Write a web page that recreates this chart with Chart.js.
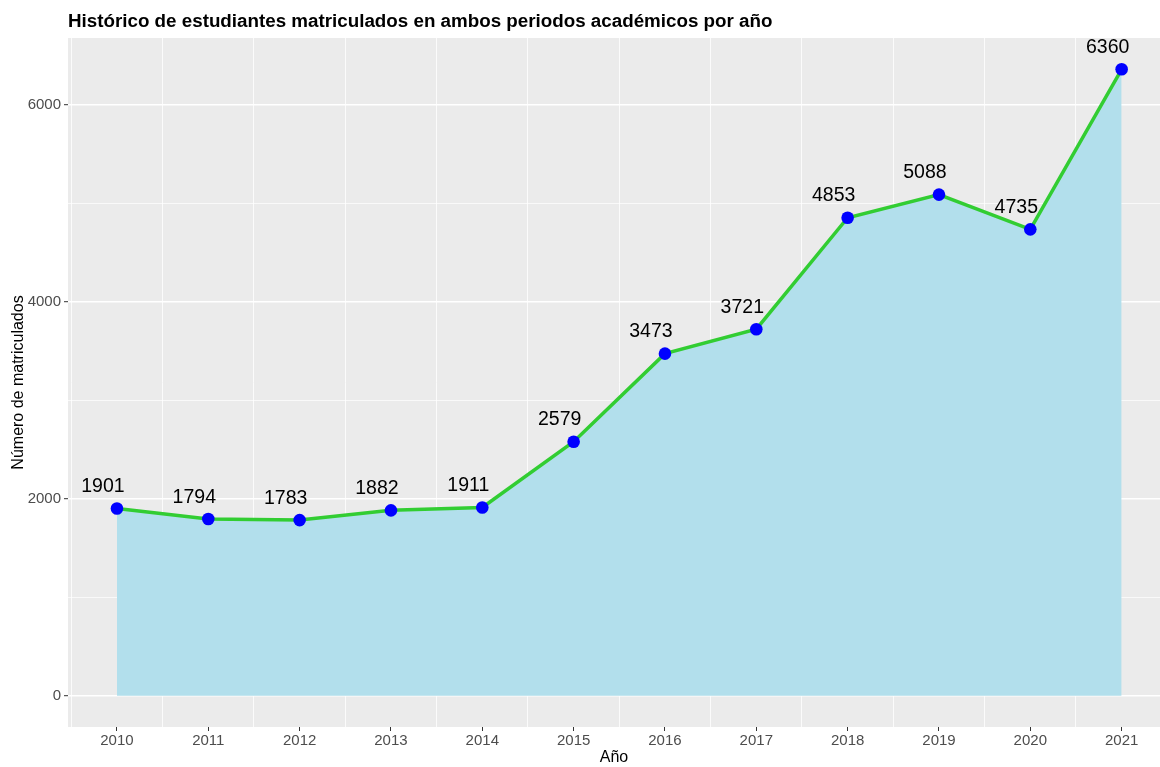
<!DOCTYPE html>
<html>
<head>
<meta charset="utf-8">
<script src="https://cdn.jsdelivr.net/npm/chart.js@4"></script>
<style>
  html, body { margin: 0; padding: 0; background: #ffffff; }
  #chart { display: block; }
</style>
</head>
<body>
<canvas id="chart" width="1160" height="767"></canvas>
<script>
// data
const years = [2010, 2011, 2012, 2013, 2014, 2015, 2016, 2017, 2018, 2019, 2020, 2021];
const students = [1901, 1794, 1783, 1882, 1911, 2579, 3473, 3721, 4853, 5088, 4735, 6360];

// axis breaks
const yMajor = [0, 2000, 4000, 6000];
const yMinor = [1000, 3000, 5000];
const xMinor = [2009.5, 2010.5, 2011.5, 2012.5, 2013.5, 2014.5, 2015.5, 2016.5, 2017.5, 2018.5, 2019.5, 2020.5];

const titleText = "Histórico de estudiantes matriculados en ambos periodos académicos por año";
const fontFamily = "'Liberation Sans', Arial, sans-serif";

const panelBg = {
    id: "panelBg",
    beforeDraw(chart) {
        const { ctx, chartArea: a } = chart;
        ctx.save();
        ctx.fillStyle = "#EBEBEB";
        ctx.fillRect(a.left, a.top, a.right - a.left, a.bottom - a.top);
        ctx.restore();
    }
};

const pointLabels = {
    id: "pointLabels",
    afterDatasetsDraw(chart) {
        const { ctx } = chart;
        const meta = chart.getDatasetMeta(0);
        ctx.save();
        ctx.font = "19.5px " + fontFamily;
        ctx.fillStyle = "#000000";
        ctx.textAlign = "center";
        ctx.textBaseline = "alphabetic";
        meta.data.forEach((pt, i) => {
            ctx.fillText(String(students[i]), pt.x - 14, pt.y - 16.5);
        });
        ctx.restore();
    }
};

const plotTitle = {
    id: "plotTitle",
    afterDraw(chart) {
        const { ctx } = chart;
        ctx.save();
        ctx.font = "bold 18.8px " + fontFamily;
        ctx.fillStyle = "#000000";
        ctx.textAlign = "left";
        ctx.textBaseline = "alphabetic";
        ctx.fillText(titleText, 68, 27);
        ctx.restore();
    }
};

const isMajorY = v => yMajor.includes(v);
const isYear = v => years.includes(v);

new Chart(document.getElementById("chart"), {
    type: "line",
    data: {
        datasets: [{
            data: years.map((y, i) => ({ x: y, y: students[i] })),
            borderColor: "#32CD32",
            borderWidth: 3.5,
            backgroundColor: "#B2DFEC",
            fill: "origin",
            tension: 0,
            pointRadius: 6.3,
            pointHoverRadius: 6.3,
            pointBackgroundColor: "#0000FF",
            pointBorderColor: "#0000FF",
            pointBorderWidth: 0
        }]
    },
    options: {
        responsive: false,
        devicePixelRatio: 1,
        animation: false,
        layout: { autoPadding: false, padding: { top: 38, right: 0, bottom: 0, left: 0 } },
        plugins: {
            legend: { display: false },
            tooltip: { enabled: false }
        },
        scales: {
            x: {
                type: "linear",
                min: 2009.464,
                max: 2021.42,
                afterBuildTicks: s => {
                    s.ticks = years.concat(xMinor).sort((a, b) => a - b).map(v => ({ value: v }));
                },
                afterFit: s => {
                    s.height = 40;
                    s.paddingLeft = 0;
                    s.paddingRight = 0;
                },
                border: { display: false },
                grid: {
                    color: c => isYear(c.tick.value) ? "rgba(0,0,0,0)" : "#FFFFFF",
                    lineWidth: 0.8,
                    tickColor: c => isYear(c.tick.value) ? "#333333" : "rgba(0,0,0,0)",
                    tickLength: 4,
                    tickWidth: 1
                },
                ticks: {
                    autoSkip: false,
                    maxRotation: 0,
                    padding: 1,
                    color: "#4D4D4D",
                    font: { family: fontFamily, size: 15 },
                    callback: v => isYear(v) ? String(v) : ""
                },
                title: {
                    display: true,
                    text: "Año",
                    color: "#000000",
                    font: { family: fontFamily, size: 16 },
                    padding: { top: 0, bottom: 0 }
                }
            },
            y: {
                min: -318,
                max: 6678,
                afterBuildTicks: s => {
                    s.ticks = yMajor.concat(yMinor).sort((a, b) => a - b).map(v => ({ value: v }));
                },
                afterFit: s => {
                    s.width = 68;
                    s.paddingTop = 0;
                    s.paddingBottom = 0;
                },
                border: { display: false },
                grid: {
                    color: "#FFFFFF",
                    lineWidth: c => isMajorY(c.tick.value) ? 1.4 : 0.7,
                    tickColor: c => isMajorY(c.tick.value) ? "#333333" : "rgba(0,0,0,0)",
                    tickLength: 4,
                    tickWidth: 1
                },
                ticks: {
                    padding: 3,
                    color: "#4D4D4D",
                    font: { family: fontFamily, size: 15 },
                    callback: v => isMajorY(v) ? String(v) : ""
                },
                title: {
                    display: true,
                    text: "Número de matriculados",
                    color: "#000000",
                    font: { family: fontFamily, size: 16 },
                    padding: { top: 9, bottom: 0 }
                }
            }
        }
    },
    plugins: [panelBg, pointLabels, plotTitle]
});
</script>
</body>
</html>
